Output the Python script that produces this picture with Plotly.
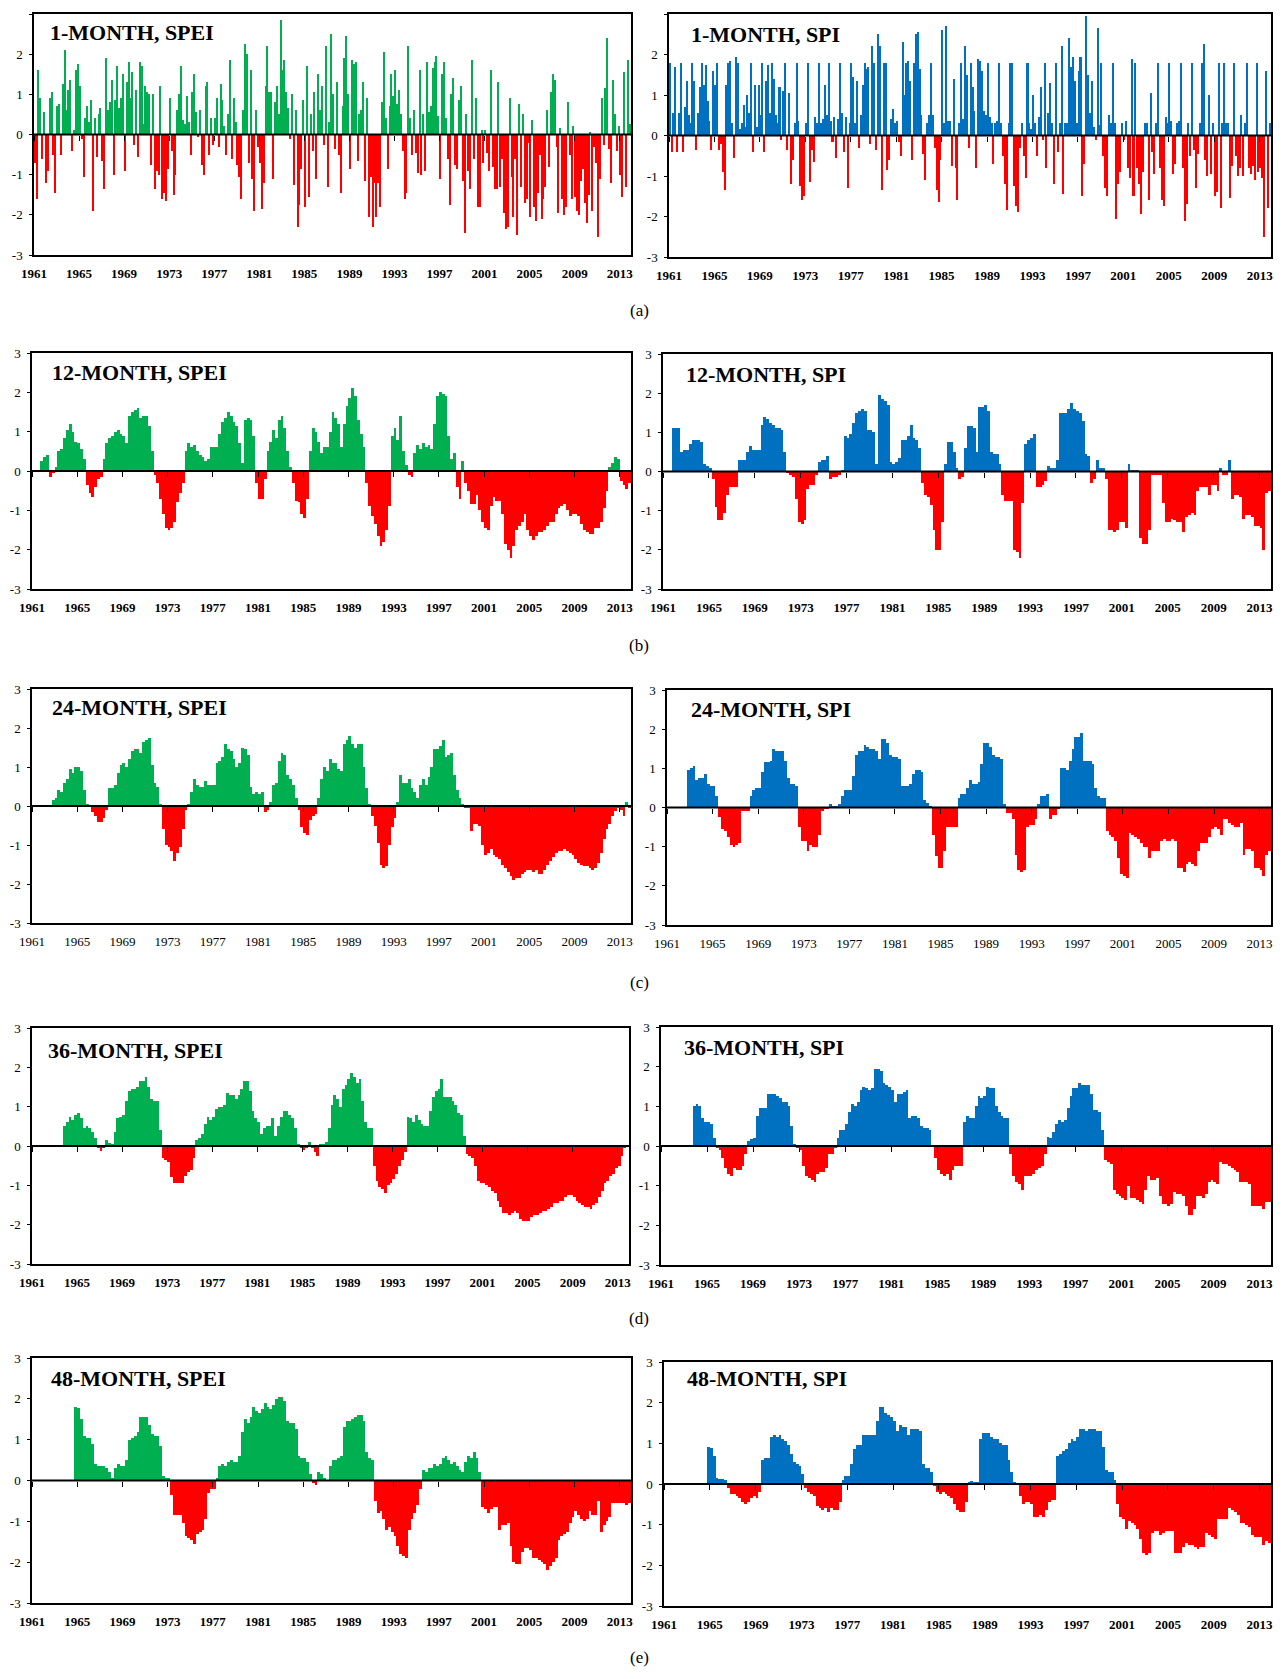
import plotly.graph_objects as go

N = None
START_YEAR = 1961
END_YEAR = 2014
TICK_YEARS = list(range(1961, 2014, 4))
TICK_LABELS = [str(y) for y in TICK_YEARS]
Y_TICKS = [-3, -2, -1, 0, 1, 2, 3]
Y_LABELS = [str(v) for v in Y_TICKS]

# ---- 1-month indices (6 values per year, 1961..2013) ----
spei_1 = [
    -0.7, -1.6, 1.6, 0.9, -0.6, 0.55,
    -1.2, -0.9, 0.9, 1.05, -0.5, -1.45,
    0.7, 0.75, -0.5, 1.25, 2.1, 0.6,
    1.1, 1.35, -0.4, 0.1, 1.6, 1.75,
    1.2, -0.1, -1.05, 0.4, 0.7, 0.3,
    0.85, -1.9, 0.4, -0.55, 0.5, 0.65,
    -0.65, -1.35, 1.9, 0.6, 0.8, 1.35,
    -1.0, 0.85, 1.7, 0.65, 0.9, 1.5,
    -0.9, 1.3, 1.8, 0.9, 1.55, -0.25,
    1.1, -0.55, 1.8, 1.7, 0.25, 1.2,
    1.05, 1.0, -0.75, 1.0, -1.35, -0.9,
    -1.0, 1.2, -1.6, -1.45, -1.65, -0.85,
    0.9, -0.4, -1.5, -1.0, 0.6, 1.0,
    1.7, 0.35, 0.25, 0.95, 0.3, -0.5,
    1.05, 1.5, 0.55, -0.05, 0.6, -0.75,
    -1.0, 1.2, 1.3, -0.5, 0.4, -0.25,
    0.4, 0.9, -0.3, 1.25, 0.85, 0.2,
    -0.5, 0.5, 1.85, -0.6, 0.9, 0.3,
    -0.75, -1.05, -1.6, 0.6, 2.25, 2.0,
    -0.7, 1.6, -1.1, -1.9, 0.6, -0.3,
    -0.7, -1.85, -1.2, 1.2, 2.2, 1.05,
    1.05, -1.1, 0.8, 1.2, 0.5, 2.85,
    1.6, 1.85, 1.05, 0.65, -0.1, 1.0,
    -1.25, 0.6, -2.3, -1.75, -0.85, 0.85,
    -1.8, 1.7, -1.55, 0.5, -0.4, 1.05,
    -1.1, 1.5, 0.6, 1.2, -0.25, 2.2,
    -1.3, 0.3, 2.5, 1.0, -0.35, 1.3,
    -0.5, -1.45, 0.7, 1.9, 2.45, 1.0,
    -0.85, 1.85, 1.75, 1.8, -0.65, 0.5,
    0.6, 1.3, -1.15, 0.9, -2.05, -1.05,
    -2.3, -1.2, -2.05, -1.2, -1.8, 0.8,
    2.05, 0.4, -0.85, 0.7, 1.5, 0.95,
    1.6, 0.75, 1.1, 0.5, -0.4, -1.6,
    -1.45, 2.2, 0.4, -0.5, 0.6, -0.45,
    -0.95, 1.6, -1.0, 0.5, -0.9, 1.8,
    0.55, 0.7, 1.65, 1.8, 1.95, 0.45,
    -1.1, 1.5, 1.8, 0.4, -0.6, -1.75,
    1.0, 1.4, -0.75, -0.85, 0.85, 1.2,
    -1.15, -2.45, 0.5, -0.9, -1.35, 1.85,
    -0.6, 0.9, -1.8, -1.8, 0.1, -0.7,
    0.1, -0.45, -0.9, 1.6, -0.8, -1.35,
    -1.35, 1.3, -1.3, -0.6, -1.95, -2.35,
    -2.3, 0.9, -1.05, -2.05, -0.6, -2.5,
    0.75, -1.3, 0.5, -1.7, -1.6, -0.2,
    -2.05, 0.35, -1.8, -2.15, -1.45, -0.5,
    -2.1, -1.6, -1.3, 0.6, -0.8, 1.05,
    1.5, 1.35, -0.3, -1.95, 0.15, -1.6,
    -2.0, -1.8, 0.8, -0.5, -1.6, 0.2,
    -1.55, -1.9, -2.0, -1.15, -0.85, -1.7,
    -2.2, -1.5, 0.05, -1.9, -0.3, -0.7,
    -2.55, -1.1, 0.9, -0.25, 1.15, 2.4,
    -0.35, -1.2, 1.35, 0.5, -0.4, 0.2,
    -1.0, -1.55, 1.55, -1.3, 1.85, 0.25,
]

spi_1 = [
    1.78, -0.4, 0.55, 1.7, -0.4, 0.55,
    1.78, -0.4, 0.7, 1.35, 0.5, 0.3,
    1.78, 1.35, -0.35, 0.55, 1.2, 1.8,
    1.25, 1.75, 0.85, 0.35, -0.35, 1.6,
    1.25, 1.78, -0.35, -0.2, -0.9, -1.35,
    1.25, 1.8, 1.85, 0.3, -0.55, 1.95,
    1.8, 0.15, 0.3, 0.75, 0.2, 1.0,
    0.55, 1.78, -0.4, 1.25, 0.2, 1.25,
    0.5, 1.78, -0.4, 1.35, 1.75, 0.55,
    1.78, 1.4, 0.5, 0.3, 1.2, -0.1,
    1.1, 1.78, -0.35, 1.05, -1.2, -0.6,
    0.3, 1.78, 0.35, -1.25, -1.6, -1.5,
    0.3, 1.78, -1.15, -0.35, -0.65, 0.45,
    0.3, 1.78, 0.3, 0.4, 1.25, 0.5,
    1.78, 0.35, -0.15, 0.45, -0.55, 0.4,
    1.78, 0.55, -0.4, 0.45, -1.3, 0.3,
    1.78, 1.45, 0.3, 1.35, -0.3, 0.5,
    1.25, 1.8, 1.65, 1.7, -0.2, 2.2,
    1.78, -0.35, 2.5, 2.2, -1.35, 1.78,
    1.78, -0.85, -0.6, 0.4, 0.65, 0.3,
    0.35, -0.15, -0.5, 2.3, 1.0, 1.78,
    1.85, 1.35, -0.6, 1.78, 2.5, 2.55,
    1.65, 0.5, -0.45, -1.1, 0.3, 0.5,
    1.78, 0.5, -0.3, -1.35, -1.65, -0.6,
    2.6, 0.3, 2.7, 0.35, 0.35, -0.75,
    1.4, -0.8, -1.6, 0.3, 1.78, 0.4,
    2.2, 1.5, -0.3, 1.78, 1.2, 0.6,
    -0.8, 1.9, 1.85, 1.6, 0.6, 0.5,
    1.78, 0.45, 0.3, -0.7, 0.3, 0.35,
    1.78, 0.3, -0.5, -1.2, -1.85, 0.3,
    1.78, 1.78, -1.25, -1.75, -1.9, -0.3,
    0.3, -0.5, -1.05, 1.78, 0.3, 0.15,
    1.0, 0.3, -0.5, 0.45, 1.2, -0.1,
    1.78, -0.8, 0.55, 1.3, 0.3, -1.2,
    1.78, -0.4, 0.3, 2.2, -1.45, 0.3,
    0.3, 2.4, 1.7, 1.95, 1.35, 0.3,
    1.6, 1.95, -1.5, -0.7, 2.95, 1.5,
    0.55, 1.35, 0.2, -0.1, 2.65, 0.25,
    1.78, -0.5, -1.3, -1.5, 0.5, 0.3,
    1.78, 0.3, -2.05, -1.2, -0.9, 0.3,
    -0.1, 0.35, -0.8, -1.05, 1.9, -1.5,
    1.78, -0.8, -1.2, -1.95, -0.9, 0.3,
    0.3, -1.6, 1.05, -0.4, -0.95, 0.3,
    1.78, -0.8, -1.6, -1.75, 0.45, 0.3,
    1.78, 0.35, -0.95, -0.7, 0.3, 0.35,
    1.78, -0.8, -2.1, -1.7, 0.3, -0.5,
    1.78, -0.35, -1.3, -0.45, 0.3, 1.78,
    2.25, -0.6, -1.0, 1.0, -0.95, 0.3,
    -1.5, -1.4, 1.8, -1.8, 0.3, 1.78,
    0.3, 0.3, -1.55, -0.75, 1.78, -0.5,
    -1.0, -0.8, 0.5, -1.0, 0.3, 1.78,
    -0.8, -0.95, -0.75, -1.1, 1.78, -0.9,
    -0.8, -1.05, -2.5, 1.6, -1.8, 0.3,
]

# ---- longer time scales (4 values per year, 1961..2013) ----
spei_12 = [
    N, N, N, 0.25,  0.35, 0.4, -0.15, -0.05,  0.1, 0.5, 0.55, 0.85,
    1.05, 1.2, 1.0, 0.75,  0.7, 0.55, 0.3, -0.35,  -0.55, -0.65, -0.4, -0.2,
    -0.15, 0.3, 0.7, 0.85,  0.9, 1.0, 1.05, 0.95,  0.9, 0.7, 1.4, 1.5,
    1.55, 1.6, 1.35, 1.4,  1.4, 1.15, 0.5, -0.1,  -0.3, -0.7, -1.1, -1.45,
    -1.5, -1.45, -1.3, -0.8,  -0.55, -0.3, 0.5, 0.7,  0.6, 0.65, 0.5, 0.4,
    0.35, 0.25, 0.3, 0.6,  0.6, 0.6, 0.95, 1.25,  1.35, 1.5, 1.4, 1.25,
    1.15, 0.7, 0.2, 1.3,  1.35, 1.3, 0.9, -0.3,  -0.7, -0.7, -0.2, 0.5,
    0.75, 1.05, 0.85, 1.3,  1.4, 1.1, 0.5, 0.1,  -0.3, -0.75, -0.8, -1.1,
    -1.2, -0.7, 0.5, 1.1,  1.0, 0.75, 0.45, 0.6,  0.6, 1.0, 1.5, 1.35,
    1.2, 0.6, 1.2, 1.65,  1.85, 2.1, 1.9, 1.3,  0.95, 0.6, -0.3, -0.9,
    -1.15, -1.35, -1.65, -1.9,  -1.8, -1.5, -0.9, 0.9,  1.1, 0.8, 1.4, 0.5,
    0.15, -0.1, -0.15, 0.45,  0.65, 0.55, 0.7, 0.6,  0.65, 0.55, 1.2, 1.9,
    2.0, 1.95, 1.9, 0.9,  0.3, 0.45, -0.4, -0.7,  0.25, -0.3, -0.5, -0.85,
    -0.85, -0.6, -1.0, -1.3,  -1.45, -1.5, -0.9, -0.65,  -0.75, -0.75, -1.1, -1.85,
    -2.0, -2.2, -1.9, -1.5,  -1.4, -1.3, -1.1, -1.5,  -1.65, -1.75, -1.65, -1.55,
    -1.55, -1.5, -1.4, -1.3,  -1.3, -1.1, -0.95, -0.9,  -0.85, -1.0, -1.15, -1.1,
    -1.1, -1.15, -1.35, -1.5,  -1.55, -1.6, -1.6, -1.45,  -1.45, -1.3, -0.95, -0.5,
    0.1, 0.2, 0.35, 0.3,  -0.25, -0.35, -0.45, -0.3,
]

spi_12 = [
    N, N, N, 1.1,  1.1, 1.1, 0.5, 0.55,  0.55, 0.7, 0.8, 0.8,
    0.8, 0.75, 0.2, 0.15,  0.1, -0.2, -0.9, -1.25,  -1.25, -1.05, -0.6, -0.4,
    -0.4, -0.4, 0.3, 0.3,  0.3, 0.5, 0.65, 0.55,  0.55, 0.55, 1.2, 1.4,
    1.35, 1.25, 1.2, 1.1,  1.1, 1.05, 0.5, -0.05,  -0.1, -0.15, -0.7, -1.3,
    -1.35, -1.25, -0.45, -0.35,  -0.35, -0.1, 0.25, 0.3,  0.3, 0.4, -0.2, -0.15,
    -0.15, -0.1, 0.05, 0.9,  0.85, 0.95, 1.25, 1.5,  1.55, 1.6, 1.55, 1.05,
    1.05, 1.0, 0.2, 1.95,  1.85, 1.8, 1.7, 0.25,  0.2, 0.25, 0.35, 0.8,
    0.8, 0.9, 1.2, 0.85,  0.8, 0.6, -0.3, -0.6,  -0.65, -0.85, -1.5, -2.0,
    -2.0, -1.3, 0.2, 0.75,  0.75, 0.5, 0.1, -0.2,  -0.15, 0.6, 1.15, 1.15,
    1.1, 0.5, 1.65, 1.65,  1.7, 1.55, 0.5, 0.45,  0.45, 0.2, -0.6, -0.75,
    -0.75, -0.75, -2.0, -2.05,  -2.2, -0.8, 0.7, 0.8,  0.85, 0.95, -0.4, -0.4,
    -0.35, -0.25, 0.15, 0.1,  0.1, 0.3, 1.5, 1.5,  1.5, 1.6, 1.75, 1.6,
    1.55, 1.5, 1.3, 0.45,  0.4, -0.3, -0.2, 0.3,  0.1, 0.1, -0.2, -1.5,
    -1.5, -1.55, -1.5, -1.3,  -1.3, -1.45, 0.2, 0.05,  0.05, 0.02, -1.7, -1.85,
    -1.85, -1.5, -0.1, -0.1,  -0.1, -0.1, -0.8, -1.3,  -1.3, -1.2, -1.25, -1.3,
    -1.3, -1.55, -1.15, -1.1,  -1.05, -1.1, -0.5, -0.4,  -0.4, -0.4, -0.6, -0.35,
    -0.35, -0.5, 0.1, -0.1,  -0.1, 0.3, -0.7, -0.6,  -0.6, -0.65, -1.2, -1.1,
    -1.1, -1.15, -1.4, -1.4,  -1.45, -2.0, -0.55, -0.5,
]

spei_24 = [
    N, N, N, N,  N, N, N, 0.15,  0.2, 0.4, 0.35, 0.6,
    0.7, 0.95, 0.85, 1.0,  1.0, 0.9, 0.4, 0.05,  0.02, -0.15, -0.25, -0.4,
    -0.4, -0.3, -0.1, 0.45,  0.45, 0.55, 0.85, 1.05,  1.1, 1.0, 1.2, 1.4,
    1.45, 1.45, 1.35, 1.65,  1.7, 1.75, 1.05, 0.6,  0.5, 0.05, -0.6, -1.0,
    -1.05, -1.15, -1.4, -1.2,  -1.05, -0.6, -0.1, 0.05,  0.35, 0.7, 0.55, 0.5,
    0.5, 0.65, 0.55, 0.55,  0.55, 1.1, 1.15, 1.25,  1.6, 1.45, 1.4, 1.2,
    1.0, 1.1, 1.5, 1.45,  1.3, 0.5, 0.3, 0.35,  0.3, 0.35, -0.15, -0.1,
    0.1, 0.55, 0.6, 1.15,  1.35, 1.3, 0.8, 0.7,  0.55, 0.2, -0.1, -0.55,
    -0.7, -0.75, -0.35, -0.25,  -0.2, 0.2, 0.7, 1.0,  0.9, 1.2, 1.1, 1.1,
    0.95, 0.9, 1.6, 1.7,  1.8, 1.6, 1.5, 1.6,  1.6, 1.0, 0.45, 0.05,
    -0.25, -0.5, -0.95, -1.5,  -1.6, -1.55, -1.0, -0.55,  -0.3, 0.1, 0.8, 0.6,
    0.6, 0.7, 0.45, 0.35,  0.2, 0.55, 0.7, 0.55,  0.75, 1.0, 1.45, 1.45,
    1.55, 1.7, 1.25, 1.3,  1.35, 0.8, 0.4, 0.2,  0.05, -0.05, -0.05, -0.65,
    -0.45, -0.45, -0.5, -1.0,  -1.25, -1.2, -1.1, -1.25,  -1.3, -1.35, -1.5, -1.6,
    -1.7, -1.8, -1.9, -1.85,  -1.85, -1.75, -1.7, -1.65,  -1.65, -1.7, -1.65, -1.75,
    -1.75, -1.65, -1.5, -1.4,  -1.3, -1.2, -1.15, -1.15,  -1.1, -1.15, -1.2, -1.25,
    -1.35, -1.45, -1.5, -1.55,  -1.55, -1.6, -1.65, -1.6,  -1.45, -1.2, -0.85, -0.6,
    -0.45, -0.25, -0.12, -0.05,  -0.1, -0.25, 0.1, -0.05,
]

spi_24 = [
    N, N, N, N,  N, N, N, 0.95,  1.0, 1.05, 0.7, 0.75,
    0.75, 0.85, 0.6, 0.55,  0.55, 0.3, -0.25, -0.55,  -0.6, -0.75, -0.95, -1.0,
    -0.95, -0.9, -0.1, -0.1,  -0.1, 0.3, 0.45, 0.5,  0.5, 0.9, 1.15, 1.15,
    1.2, 1.5, 1.45, 1.45,  1.45, 1.2, 0.75, 0.6,  0.6, 0.55, -0.5, -0.85,
    -0.85, -1.1, -0.95, -1.0,  -1.0, -0.7, -0.1, -0.05,  -0.05, 0.1, 0.05, 0.05,
    0.1, 0.3, 0.45, 0.45,  0.45, 0.8, 1.35, 1.45,  1.45, 1.6, 1.55, 1.5,
    1.5, 1.45, 1.25, 1.75,  1.75, 1.65, 1.35, 1.3,  1.3, 1.25, 0.55, 0.55,
    0.55, 0.6, 0.85, 0.95,  0.95, 0.9, 0.2, 0.12,  0.05, -0.7, -1.25, -1.55,
    -1.55, -1.1, -0.5, -0.5,  -0.5, -0.5, 0.25, 0.35,  0.35, 0.5, 0.7, 0.6,
    0.6, 0.65, 1.1, 1.65,  1.65, 1.55, 1.35, 1.3,  1.3, 1.25, 0.1, -0.15,
    -0.15, -0.3, -1.2, -1.6,  -1.65, -1.6, -0.5, -0.45,  -0.45, -0.3, 0.1, 0.3,
    0.3, 0.35, -0.3, -0.2,  -0.2, -0.05, 1.0, 1.0,  0.95, 1.2, 1.5, 1.8,
    1.8, 1.9, 1.2, 1.2,  1.2, 1.1, 0.5, 0.3,  0.25, 0.25, -0.6, -0.7,
    -0.75, -0.85, -1.3, -1.7,  -1.75, -1.8, -0.65, -0.7,  -0.75, -0.8, -0.9, -1.0,
    -1.0, -1.3, -1.1, -1.1,  -1.1, -0.85, -0.8, -0.85,  -0.85, -0.8, -0.85, -1.55,
    -1.55, -1.65, -1.45, -1.4,  -1.45, -1.5, -1.1, -0.9,  -0.9, -0.9, -0.75, -0.55,
    -0.5, -0.55, -0.7, -0.3,  -0.3, -0.4, -0.45, -0.5,  -0.5, -0.4, -1.2, -1.05,
    -1.05, -1.1, -1.55, -1.55,  -1.6, -1.75, -1.2, -1.1,
]

spei_36 = [
    N, N, N, N,  N, N, N, N,  N, N, N, 0.5,
    0.6, 0.75, 0.65, 0.8,  0.85, 0.7, 0.45, 0.5,  0.45, 0.35, 0.2, -0.03,
    -0.12, -0.05, 0.15, 0.08,  0.05, 0.35, 0.7, 0.75,  0.8, 1.15, 1.4, 1.45,
    1.45, 1.5, 1.65, 1.65,  1.75, 1.5, 1.2, 1.15,  1.15, 0.4, -0.3, -0.35,
    -0.4, -0.8, -0.95, -0.95,  -0.95, -0.95, -0.75, -0.65,  -0.6, -0.3, 0.15, 0.2,
    0.3, 0.55, 0.75, 0.65,  0.75, 0.95, 1.0, 1.0,  1.05, 1.35, 1.3, 1.3,
    1.2, 1.3, 1.45, 1.65,  1.65, 1.4, 0.9, 0.7,  0.6, 0.3, 0.45, 0.5,
    0.5, 0.7, 0.25, 0.5,  0.75, 0.9, 0.9, 0.8,  0.7, 0.45, 0.05, -0.05,
    -0.1, -0.05, 0.1, -0.05,  -0.15, -0.25, 0.05, 0.05,  0.1, 0.45, 1.05, 1.3,
    1.2, 1.0, 1.45, 1.55,  1.7, 1.85, 1.75, 1.6,  1.7, 1.15, 0.6, 0.45,
    0.45, -0.5, -0.9, -1.05,  -1.1, -1.2, -1.0, -0.95,  -0.85, -0.7, -0.5, -0.35,
    -0.15, 0.75, 0.7, 0.6,  0.8, 0.65, 0.55, 0.5,  0.5, 0.9, 1.25, 1.4,
    1.45, 1.7, 1.25, 1.25,  1.25, 1.15, 1.05, 0.85,  0.8, 0.25, -0.2, -0.25,
    -0.3, -0.5, -0.9, -0.95,  -0.95, -1.0, -1.05, -1.15,  -1.2, -1.4, -1.55, -1.7,
    -1.7, -1.75, -1.7, -1.65,  -1.7, -1.85, -1.9, -1.9,  -1.9, -1.8, -1.75, -1.75,
    -1.7, -1.65, -1.65, -1.6,  -1.55, -1.45, -1.45, -1.4,  -1.4, -1.3, -1.25, -1.25,
    -1.3, -1.4, -1.45, -1.5,  -1.55, -1.55, -1.6, -1.5,  -1.45, -1.3, -1.15, -0.95,
    -0.9, -0.75, -0.7, -0.55,  -0.5, -0.25, -0.05, 0.02,
]

spi_36 = [
    N, N, N, N,  N, N, N, N,  N, N, N, 1.0,
    1.05, 1.0, 0.7, 0.6,  0.6, 0.55, 0.2, -0.05,  -0.1, -0.3, -0.55, -0.7,
    -0.75, -0.55, -0.6, -0.6,  -0.5, -0.2, 0.12, 0.18,  0.2, 0.75, 0.95, 0.95,
    0.95, 1.3, 1.3, 1.3,  1.25, 1.2, 1.1, 1.1,  1.0, 0.5, 0.05, -0.05,
    -0.1, -0.5, -0.75, -0.8,  -0.85, -0.9, -0.7, -0.65,  -0.65, -0.55, -0.2, -0.2,
    -0.05, 0.2, 0.4, 0.4,  0.55, 0.85, 1.05, 1.0,  1.1, 1.4, 1.5, 1.45,
    1.4, 1.45, 1.95, 1.95,  1.9, 1.6, 1.55, 1.5,  1.4, 1.1, 1.3, 1.3,
    1.35, 1.4, 0.7, 0.75,  0.75, 0.7, 0.5, 0.45,  0.45, 0.4, 0.0, -0.3,
    -0.6, -0.7, -0.75, -0.7,  -0.85, -0.6, -0.5, -0.5,  -0.5, 0.6, 0.75, 0.7,
    0.7, 1.0, 1.25, 1.2,  1.25, 1.5, 1.45, 1.45,  1.0, 0.85, 0.75, 0.7,
    0.7, -0.2, -0.75, -0.9,  -0.95, -1.1, -0.75, -0.75,  -0.75, -0.7, -0.6, -0.55,
    -0.5, -0.2, 0.22, 0.2,  0.35, 0.55, 0.65, 0.6,  0.65, 0.95, 1.25, 1.45,
    1.45, 1.6, 1.55, 1.55,  1.55, 1.3, 0.9, 0.9,  0.85, 0.4, -0.35, -0.4,
    -0.45, -1.1, -1.2, -1.25,  -1.3, -1.35, -1.0, -1.3,  -1.3, -1.35, -1.4, -1.45,
    -1.1, -0.75, -0.85, -0.85,  -0.8, -1.25, -1.45, -1.45,  -1.5, -1.45, -1.15, -1.2,
    -1.2, -1.25, -1.5, -1.75,  -1.75, -1.6, -1.25, -1.25,  -1.3, -1.2, -0.9, -0.85,
    -0.9, -0.95, -0.4, -0.45,  -0.45, -0.5, -0.55, -0.6,  -0.65, -0.9, -0.9, -0.9,
    -0.95, -1.5, -1.5, -1.5,  -1.5, -1.6, -1.4, -1.4,
]

spei_48 = [
    N, N, N, N,  N, N, N, N,  N, N, N, N,
    N, N, N, 1.8,  1.78, 1.5, 1.1, 1.05,  1.05, 0.9, 0.4, 0.35,
    0.35, 0.35, 0.3, 0.2,  0.05, 0.3, 0.4, 0.35,  0.35, 0.5, 1.0, 1.05,
    1.1, 1.2, 1.55, 1.55,  1.55, 1.35, 1.15, 1.1,  1.1, 0.85, 0.1, 0.05,
    0.05, -0.35, -0.85, -0.85,  -0.85, -1.05, -1.35, -1.4,  -1.45, -1.55, -1.3, -1.25,
    -1.2, -0.95, -0.3, -0.2,  -0.2, 0.05, 0.35, 0.4,  0.35, 0.45, 0.5, 0.45,
    0.45, 0.6, 1.2, 1.5,  1.4, 1.55, 1.8, 1.7,  1.65, 1.75, 1.9, 1.8,
    1.75, 1.85, 2.0, 2.05,  2.05, 1.95, 1.45, 1.4,  1.4, 1.25, 0.6, 0.55,
    0.55, 0.45, 0.15, -0.05,  -0.1, 0.2, 0.15, 0.05,  0.0, 0.35, 0.5, 0.5,
    0.55, 0.6, 1.3, 1.45,  1.45, 1.5, 1.55, 1.6,  1.6, 1.45, 0.7, 0.55,
    0.5, -0.5, -0.8, -0.75,  -0.95, -1.2, -1.15, -1.25,  -1.35, -1.6, -1.8, -1.85,
    -1.9, -1.2, -0.95, -0.8,  -0.6, -0.2, 0.25, 0.2,  0.3, 0.3, 0.4, 0.35,
    0.4, 0.55, 0.6, 0.5,  0.4, 0.45, 0.35, 0.25,  0.2, 0.45, 0.6, 0.55,
    0.7, 0.55, 0.2, -0.65,  -0.7, -0.8, -0.7, -0.65,  -0.65, -1.2, -1.1, -1.1,
    -1.05, -1.6, -2.0, -2.05,  -2.05, -1.75, -1.65, -1.65,  -1.7, -1.9, -1.9, -1.95,
    -2.0, -2.05, -2.2, -2.1,  -2.0, -1.9, -1.45, -1.35,  -1.3, -1.25, -1.05, -0.9,
    -0.75, -0.85, -0.95, -1.0,  -0.95, -0.75, -0.85, -0.85,  -0.5, -1.25, -1.1, -1.0,
    -0.9, -0.55, -0.55, -0.55,  -0.55, -0.55, -0.6, -0.55,
]

spi_48 = [
    N, N, N, N,  N, N, N, N,  N, N, N, N,
    N, N, N, 0.9,  0.88, 0.7, 0.15, 0.12,  0.12, 0.1, -0.1, -0.25,
    -0.25, -0.3, -0.35, -0.45,  -0.5, -0.45, -0.35, -0.3,  -0.35, -0.2, 0.6, 0.65,
    0.65, 1.15, 1.2, 1.15,  1.2, 1.1, 1.05, 0.95,  0.75, 0.55, 0.5, 0.45,
    0.25, -0.1, -0.2, -0.25,  -0.3, -0.55, -0.6, -0.65,  -0.6, -0.7, -0.6, -0.65,
    -0.65, -0.45, 0.1, 0.2,  0.2, 0.5, 0.85, 0.95,  0.95, 1.2, 1.2, 1.2,
    1.2, 1.2, 1.55, 1.9,  1.9, 1.75, 1.7, 1.65,  1.55, 1.3, 1.45, 1.4,
    1.4, 1.2, 1.35, 1.35,  1.35, 1.3, 0.5, 0.4,  0.4, 0.3, -0.05, -0.2,
    -0.25, -0.2, -0.25, -0.3,  -0.35, -0.5, -0.65, -0.7,  -0.7, -0.45, 0.05, 0.08,
    0.05, 0.05, 1.1, 1.25,  1.25, 1.25, 1.15, 1.1,  1.1, 1.0, 0.95, 0.95,
    0.6, 0.3, 0.05, 0.0,  -0.3, -0.5, -0.45, -0.45,  -0.5, -0.8, -0.8, -0.75,
    -0.8, -0.65, -0.45, -0.4,  -0.4, 0.7, 0.75, 0.8,  0.85, 1.0, 1.1, 1.05,
    1.15, 1.35, 1.35, 1.3,  1.35, 1.35, 1.35, 1.3,  1.3, 0.9, 0.35, 0.3,
    0.3, 0.1, -0.5, -0.8,  -0.85, -1.1, -0.9, -0.95,  -1.0, -1.1, -1.35, -1.7,
    -1.75, -1.7, -1.2, -1.15,  -1.15, -1.25, -1.2, -1.15,  -1.15, -1.15, -1.7, -1.7,
    -1.7, -1.55, -1.45, -1.5,  -1.5, -1.55, -1.6, -1.55,  -1.55, -1.2, -1.25, -1.3,
    -1.35, -0.85, -0.85, -0.85,  -0.85, -0.6, -0.65, -0.7,  -0.75, -0.95, -0.95, -1.0,
    -1.05, -1.25, -1.3, -1.3,  -1.3, -1.5, -1.4, -1.45,
]

TITLES = ["1-MONTH, SPEI", "1-MONTH, SPI", "12-MONTH, SPEI", "12-MONTH, SPI",
          "24-MONTH, SPEI", "24-MONTH, SPI", "36-MONTH, SPEI", "36-MONTH, SPI",
          "48-MONTH, SPEI", "48-MONTH, SPI"]
SERIES = [spei_1, spi_1, spei_12, spi_12, spei_24, spi_24, spei_36, spi_36, spei_48, spi_48]
PER_YEAR = [6, 6, 4, 4, 4, 4, 4, 4, 4, 4]
CAPTIONS = ["(a)", "(b)", "(c)", "(d)", "(e)"]

GREEN = "#00B050"
BLUE = "#0070C0"
RED = "#FF0000"
FONT = "Liberation Serif"

# page is 1285x1679; the html body keeps an 8px margin around the figure
OFF = 8
W, H = 1285 - 2 * OFF, 1679 - 2 * OFF
# plot boxes in page pixels: (x0, x1, y0, y1)
BOXES = [
    (34, 631, 14, 255), (669, 1271, 14, 257),
    (32, 631, 353, 589), (663, 1271, 354, 589),
    (32, 631, 689, 923), (667, 1271, 690, 925),
    (32, 629, 1028, 1264), (661, 1271, 1027, 1265),
    (32, 631, 1358, 1603), (664, 1271, 1362, 1606),
]
TITLE_POS = [(48, 32), (689, 34), (50, 372), (684, 374), (50, 707), (689, 710),
             (46, 1050), (682, 1047), (49, 1378), (685, 1378)]
CAPTION_POS = [(639, 311), (639, 646), (639, 982), (639, 1318), (639, 1657)]


def fx(p):
    return (p - OFF) / W


def fy(p):
    return 1 - (p - OFF) / H


def ax(n):
    return "" if n == 1 else str(n)


fig = go.Figure()
layout = {}
for i, vals in enumerate(SERIES):
    n = i + 1
    per = PER_YEAR[i]
    pos_col = GREEN if i % 2 == 0 else BLUE
    xs = [START_YEAR + (k + 0.5) / per for k in range(len(vals))]
    cols = [pos_col if (v is not None and v >= 0) else RED for v in vals]
    fill = 0.8 if per == 6 else 1.0
    fig.add_trace(go.Bar(
        x=xs, y=vals, width=fill / per,
        marker=dict(color=cols, line=dict(width=0)),
        xaxis="x" + ax(n), yaxis="y" + ax(n),
        showlegend=False, hoverinfo="skip"))
    # invisible trace carrying the tick axis drawn along the zero line
    fig.add_trace(go.Scatter(
        x=TICK_YEARS, y=[0] * len(TICK_YEARS), mode="markers",
        marker=dict(opacity=0), xaxis="x" + str(n + 10), yaxis="y" + ax(n),
        showlegend=False, hoverinfo="skip"))

    x0, x1, y0, y1 = BOXES[i]
    bold = 400 if n in (5, 6) else 700
    layout["xaxis" + ax(n)] = dict(
        domain=[fx(x0), fx(x1)], anchor="y" + ax(n), range=[START_YEAR, END_YEAR],
        tickvals=TICK_YEARS, ticktext=TICK_LABELS, ticks="", showgrid=False,
        zeroline=False, showline=True, mirror=True, linecolor="black", linewidth=1.5,
        ticklabelstandoff=6, automargin=False,
        tickfont=dict(family=FONT, size=13, color="black", weight=bold))
    layout["yaxis" + ax(n)] = dict(
        domain=[fy(y1), fy(y0)], anchor="x" + ax(n), range=[-3, 3],
        tickvals=Y_TICKS, ticktext=Y_LABELS, ticks="outside", ticklen=3,
        tickcolor="black", showgrid=False, zeroline=False, showline=True,
        mirror=True, linecolor="black", linewidth=1.5, ticklabelstandoff=4,
        automargin=False,
        tickfont=dict(family=FONT, size=13, color="black"))
    layout["xaxis" + str(n + 10)] = dict(
        domain=[fx(x0), fx(x1)], overlaying="x" + ax(n), anchor="free",
        position=fy((y0 + y1) / 2), range=[START_YEAR, END_YEAR],
        tickvals=TICK_YEARS, showticklabels=False, ticks="outside", ticklen=5,
        tickwidth=1, tickcolor="black", showgrid=False, zeroline=False,
        showline=False, automargin=False)

    fig.add_shape(type="line", xref="x" + ax(n) + " domain", yref="y" + ax(n),
                  x0=0, x1=1, y0=0, y1=0, line=dict(color="black", width=2),
                  layer="above")
    tx, ty = TITLE_POS[i]
    fig.add_annotation(x=fx(tx), y=fy(ty), xref="paper", yref="paper",
                       text="<b>" + TITLES[i] + "</b>", showarrow=False,
                       xanchor="left", yanchor="middle",
                       font=dict(family=FONT, size=22, color="black"))

for c, (cx, cy) in zip(CAPTIONS, CAPTION_POS):
    fig.add_annotation(x=fx(cx), y=fy(cy), xref="paper", yref="paper", text=c,
                       showarrow=False, xanchor="center", yanchor="middle",
                       borderpad=0,
                       font=dict(family=FONT, size=17, color="black"))

fig.update_layout(
    template="none",
    width=W, height=H, autosize=False,
    margin=dict(l=0, r=0, t=0, b=0, pad=0),
    paper_bgcolor="white", plot_bgcolor="white",
    bargap=0, showlegend=False,
    **layout)

fig.write_html("out.html")
